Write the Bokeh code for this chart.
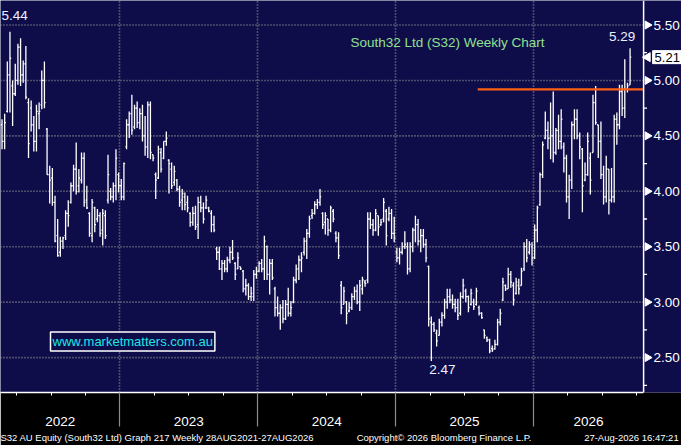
import numpy as np
from bokeh.plotting import figure
from bokeh.models import (FixedTicker, Label, Range1d, ColumnDataSource,
                          CustomJSTickFormatter, LinearAxis)
from bokeh.core.properties import value
from bokeh.embed import file_html
from bokeh.resources import INLINE

# ---------------- data (weekly OHLC) ----------------
year_names = ["2022", "2023", "2024", "2025", "2026"]

high_2022 = [4.65, 4.70, 5.17, 5.44, 5.00, 5.15, 5.33, 5.38, 5.18, 5.31, 4.84, 4.82, 4.68, 4.78, 4.80,
             5.09, 5.17, 4.57, 4.23, 4.21, 3.96, 3.75, 3.59, 3.59, 3.83, 3.92, 4.08, 4.24, 4.44, 4.20,
             4.35, 4.35, 4.05, 3.81, 3.93, 3.86, 3.84, 3.81, 3.84, 3.83, 4.33, 4.03, 4.08, 4.38, 4.17]
low_2022 = [4.38, 4.38, 4.71, 4.71, 4.59, 4.86, 4.96, 4.95, 4.98, 4.83, 4.30, 4.54, 4.36, 4.36, 4.56,
            4.74, 4.75, 4.15, 3.89, 3.87, 3.54, 3.41, 3.41, 3.48, 3.56, 3.68, 3.89, 4.00, 3.97, 3.99,
            4.07, 3.86, 3.84, 3.59, 3.54, 3.63, 3.72, 3.59, 3.51, 3.57, 3.89, 3.92, 3.90, 3.92, 3.99]
open_2022 = [4.60, 4.45, 4.72, 5.05, 4.95, 4.88, 5.00, 5.30, 5.05, 5.15, 4.80, 4.75, 4.60, 4.45, 4.70,
             4.78, 5.00, 4.56, 4.15, 4.12, 3.90, 3.60, 3.45, 3.55, 3.60, 3.80, 3.90, 4.05, 4.20, 4.05,
             4.10, 4.30, 3.92, 3.80, 3.60, 3.85, 3.75, 3.78, 3.65, 3.78, 3.92, 4.00, 3.95, 4.05, 4.15]
close_2022 = [4.45, 4.62, 5.05, 5.20, 4.88, 5.00, 5.30, 5.05, 5.15, 4.85, 4.43, 4.60, 4.45, 4.72, 4.72,
              5.00, 4.80, 4.15, 4.10, 3.90, 3.55, 3.42, 3.55, 3.58, 3.80, 3.78, 4.05, 4.20, 4.00, 4.12,
              4.30, 3.90, 3.85, 3.62, 3.90, 3.70, 3.78, 3.62, 3.80, 3.60, 4.15, 3.95, 4.05, 4.30, 4.05]

high_2023 = [4.11, 4.26, 4.65, 4.72, 4.87, 4.78, 4.81, 4.75, 4.78, 4.68, 4.81, 4.81, 4.33, 4.17, 4.41,
             4.39, 4.45, 4.54, 4.29, 4.26, 4.23, 4.11, 4.05, 4.02, 3.99, 3.96, 3.81, 3.86, 3.87, 3.95,
             3.96, 3.90, 3.96, 3.86, 3.83, 3.78, 3.50, 3.50, 3.38, 3.38, 3.41, 3.50, 3.56, 3.36, 3.45,
             3.32, 3.29, 3.21, 3.17, 3.14, 3.29, 3.32]
low_2023 = [3.92, 3.92, 4.38, 4.48, 4.51, 4.56, 4.57, 4.56, 4.45, 4.32, 4.30, 4.29, 4.27, 3.93, 4.11,
            4.17, 4.29, 4.41, 3.98, 4.02, 4.05, 4.00, 3.86, 3.83, 3.83, 3.81, 3.68, 3.69, 3.65, 3.57,
            3.81, 3.71, 3.84, 3.81, 3.63, 3.63, 3.38, 3.29, 3.20, 3.27, 3.27, 3.35, 3.38, 3.20, 3.30,
            3.29, 3.09, 3.06, 3.02, 3.01, 3.01, 3.21]
open_2023 = [4.05, 3.95, 4.40, 4.60, 4.70, 4.58, 4.75, 4.62, 4.70, 4.50, 4.40, 4.78, 4.33, 4.15, 4.12,
             4.35, 4.30, 4.45, 4.28, 4.20, 4.08, 4.10, 4.02, 3.92, 3.95, 3.90, 3.80, 3.72, 3.80, 3.70,
             3.90, 3.85, 3.85, 3.85, 3.80, 3.70, 3.48, 3.45, 3.30, 3.35, 3.30, 3.38, 3.45, 3.35, 3.30,
             3.32, 3.28, 3.12, 3.15, 3.05, 3.05, 3.25]
close_2023 = [3.95, 4.25, 4.60, 4.70, 4.55, 4.75, 4.62, 4.70, 4.50, 4.40, 4.78, 4.35, 4.30, 4.10, 4.38,
              4.20, 4.45, 4.48, 4.25, 4.05, 4.18, 4.02, 3.90, 3.98, 3.88, 3.85, 3.72, 3.80, 3.68, 3.90,
              3.85, 3.75, 3.92, 3.82, 3.70, 3.65, 3.45, 3.30, 3.35, 3.30, 3.38, 3.45, 3.40, 3.25, 3.40,
              3.30, 3.12, 3.15, 3.05, 3.08, 3.25, 3.28]

high_2024 = [3.37, 3.39, 3.60, 3.51, 3.39, 3.39, 3.14, 3.05, 2.98, 3.02, 3.02, 3.13, 3.01, 3.23, 3.34,
             3.42, 3.45, 3.58, 3.66, 3.78, 3.84, 3.91, 3.93, 4.02, 3.81, 3.81, 3.75, 3.87, 3.84, 3.64,
             3.63, 3.19, 3.14, 3.01, 3.00, 3.08, 3.14, 3.16, 3.20, 3.23, 3.20, 3.81, 3.81, 3.75, 3.84,
             3.78, 3.75, 3.94, 3.84, 3.86, 3.84, 3.77]
low_2024 = [3.27, 3.27, 3.20, 3.20, 3.07, 3.20, 2.87, 2.87, 2.75, 2.81, 2.84, 2.87, 2.87, 2.99, 3.17,
            3.20, 3.27, 3.42, 3.39, 3.58, 3.75, 3.79, 3.84, 3.87, 3.66, 3.61, 3.60, 3.63, 3.72, 3.54,
            3.39, 2.89, 2.98, 2.80, 2.91, 2.93, 3.02, 2.98, 2.92, 3.07, 3.14, 3.17, 3.66, 3.60, 3.64,
            3.60, 3.69, 3.72, 3.51, 3.73, 3.57, 3.54]
open_2024 = [3.28, 3.35, 3.30, 3.50, 3.25, 3.35, 3.12, 2.95, 2.90, 2.95, 2.85, 2.98, 2.90, 3.00, 3.20,
             3.30, 3.38, 3.45, 3.55, 3.62, 3.78, 3.80, 3.88, 3.90, 3.80, 3.72, 3.75, 3.65, 3.82, 3.62,
             3.58, 3.15, 2.98, 3.00, 2.92, 2.95, 3.05, 3.10, 3.00, 3.12, 3.18, 3.20, 3.75, 3.70, 3.65,
             3.78, 3.70, 3.75, 3.82, 3.75, 3.80, 3.62]
close_2024 = [3.35, 3.30, 3.55, 3.25, 3.35, 3.22, 2.95, 2.90, 2.95, 2.85, 2.98, 2.90, 2.95, 3.20, 3.30,
              3.38, 3.40, 3.55, 3.62, 3.75, 3.80, 3.88, 3.90, 3.95, 3.70, 3.78, 3.65, 3.85, 3.75, 3.58,
              3.42, 2.95, 3.10, 2.90, 2.95, 3.05, 3.10, 3.00, 3.15, 3.20, 3.17, 3.75, 3.70, 3.65, 3.80,
              3.68, 3.72, 3.90, 3.60, 3.80, 3.62, 3.58]

high_2025 = [3.49, 3.49, 3.54, 3.64, 3.54, 3.54, 3.67, 3.78, 3.75, 3.66, 3.66, 3.57, 3.33, 2.87, 2.82,
             2.75, 2.85, 2.91, 3.03, 3.12, 3.12, 3.07, 3.03, 3.03, 3.09, 3.21, 3.12, 3.06, 3.12, 3.03,
             3.13, 2.97, 2.91, 2.75, 2.69, 2.67, 2.61, 2.66, 2.85, 2.94, 3.22, 3.16, 3.31, 3.28, 3.18,
             3.22, 3.21, 3.31, 3.54, 3.57, 3.55, 3.54]
low_2025 = [3.36, 3.34, 3.43, 3.48, 3.25, 3.27, 3.45, 3.54, 3.51, 3.45, 3.49, 3.36, 2.78, 2.47, 2.73,
            2.60, 2.70, 2.78, 2.85, 2.94, 2.99, 2.94, 2.91, 2.84, 2.88, 3.03, 3.00, 2.91, 2.97, 2.93,
            2.97, 2.88, 2.85, 2.67, 2.64, 2.54, 2.55, 2.57, 2.61, 2.79, 3.01, 3.10, 3.12, 3.13, 2.97,
            3.07, 3.07, 3.15, 3.28, 3.36, 3.43, 3.33]
open_2025 = [3.45, 3.40, 3.45, 3.50, 3.50, 3.30, 3.50, 3.65, 3.70, 3.55, 3.60, 3.52, 3.32, 2.82, 2.80,
             2.72, 2.70, 2.82, 2.88, 3.00, 3.05, 3.02, 2.98, 2.95, 2.90, 3.05, 3.10, 3.05, 2.98, 3.00,
             2.98, 2.95, 2.90, 2.75, 2.68, 2.66, 2.58, 2.58, 2.62, 2.82, 3.02, 3.15, 3.12, 3.25, 3.15,
             3.08, 3.15, 3.15, 3.30, 3.50, 3.45, 3.50]
close_2025 = [3.40, 3.45, 3.50, 3.52, 3.30, 3.50, 3.65, 3.70, 3.55, 3.60, 3.52, 3.40, 2.85, 2.80, 2.75,
              2.65, 2.82, 2.88, 3.00, 3.05, 3.02, 2.98, 2.95, 2.88, 3.05, 3.15, 3.05, 2.95, 3.08, 2.96,
              3.10, 2.90, 2.86, 2.70, 2.66, 2.56, 2.57, 2.62, 2.82, 2.90, 3.18, 3.12, 3.25, 3.18, 3.02,
              3.18, 3.12, 3.28, 3.50, 3.40, 3.52, 3.40]

high_2026 = [3.70, 3.87, 4.17, 4.45, 4.72, 4.63, 4.80, 4.90, 4.57, 4.69, 4.74, 4.44, 4.33, 4.15, 4.63,
             4.74, 4.74, 4.53, 4.39, 4.26, 4.53, 4.35, 4.87, 4.95, 4.60, 4.63, 4.23, 4.32, 4.20, 4.21,
             4.69, 4.71, 4.96, 4.96, 5.19, 4.98, 5.29]
low_2026 = [3.39, 3.54, 3.87, 4.12, 4.47, 4.38, 4.29, 4.26, 4.33, 4.38, 4.38, 4.17, 3.90, 3.75, 4.02,
            4.47, 4.47, 4.29, 3.81, 4.09, 4.14, 3.97, 4.35, 4.60, 4.30, 4.11, 3.88, 3.90, 3.79, 3.90,
            3.90, 4.42, 4.56, 4.68, 4.66, 4.89, 4.96]
open_2026 = [3.40, 3.65, 3.88, 4.15, 4.48, 4.55, 4.48, 4.50, 4.35, 4.55, 4.45, 4.40, 4.30, 3.95, 4.10,
             4.60, 4.65, 4.50, 4.38, 4.10, 4.15, 4.30, 4.35, 4.80, 4.60, 4.45, 4.15, 3.95, 4.20, 3.92,
             3.95, 4.65, 4.60, 4.90, 4.75, 4.92, 4.96]
close_2026 = [3.65, 3.85, 4.15, 4.42, 4.55, 4.48, 4.50, 4.35, 4.55, 4.45, 4.65, 4.30, 3.95, 4.10, 4.60,
              4.65, 4.50, 4.40, 4.05, 4.15, 4.45, 4.10, 4.80, 4.62, 4.45, 4.15, 3.95, 4.20, 3.92, 3.95,
              4.65, 4.60, 4.90, 4.75, 4.92, 4.95, 5.21]

price_ticks = [2.50, 3.00, 3.50, 4.00, 4.50, 5.00, 5.50]
price_minor_ticks = [2.25, 2.75, 3.25, 3.75, 4.25, 4.75, 5.25]
resistance_level = 4.92
resistance_start_week = 179.5

title_text = "South32 Ltd (S32) Weekly Chart"
website_text = "www.marketmatters.com.au"
footer_texts = ["S32 AU Equity (South32 Ltd) Graph 217 Weekly 28AUG2021-27AUG2026",
                "Copyright\u00a9 2026 Bloomberg Finance L.P.",
                "27-Aug-2026 16:47:21"]

# ---------------- assemble ----------------
highs = high_2022 + high_2023 + high_2024 + high_2025 + high_2026
lows = low_2022 + low_2023 + low_2024 + low_2025 + low_2026
opens = open_2022 + open_2023 + open_2024 + open_2025 + open_2026
closes = close_2022 + close_2023 + close_2024 + close_2025 + close_2026
weeks = np.arange(len(highs))

counts = [len(high_2022), len(high_2023), len(high_2024), len(high_2025), len(high_2026)]
boundaries = [float(v) for v in np.cumsum(counts)[:-1] - 0.5]   # first week of 2023..2026
quarter_ticks = sorted([b + 13 * k for b in boundaries for k in (-3, -2, -1, 1, 2, 3)
                        if k < 0 or b == boundaries[-1]])

NAVY = "#0f0c4a"
X0 = -0.57         # left edge of the frame (week units)
AXIS_X = 242.1     # where the price axis sits
X_END = 256.4      # right edge of the picture
Y0, Y1 = 2.185, 5.721
FOOTER_POS = [57.4, 166.8, 237.5]   # centres of the three footer texts (week units)
SANS = "Liberation Sans"

p = figure(width=681, height=445, x_range=Range1d(X0, X_END), y_range=Range1d(Y0, Y1),
           output_backend="svg", toolbar_location=None, y_axis_location=None,
           background_fill_color=NAVY, border_fill_color="black",
           min_border_left=0, min_border_top=0, min_border_right=0, min_border_bottom=50)
p.outline_line_color = None

# vertical grid (year boundaries)
p.xgrid.ticker = FixedTicker(ticks=boundaries)
p.xgrid.grid_line_color = "#8c8c8c"
p.xgrid.grid_line_dash = "1 2"
p.xgrid.grid_line_width = 1.6
p.ygrid.visible = False

# horizontal grid up to the price axis
p.segment(x0=X0, y0=price_ticks, x1=AXIS_X, y1=price_ticks,
          line_color="#8c8c8c", line_dash="1 2", line_width=1.6)

# bars
src = ColumnDataSource(dict(x=weeks, xl=weeks - 0.45, xr=weeks + 0.45,
                            high=highs, low=lows, open=opens, close=closes))
p.segment(x0="x", y0="low", x1="x", y1="high", source=src, line_color="white", line_width=1.3)
p.segment(x0="xl", y0="open", x1="x", y1="open", source=src, line_color="white", line_width=1.3)
p.segment(x0="x", y0="close", x1="xr", y1="close", source=src, line_color="white", line_width=1.3)

# resistance line
p.segment(x0=[resistance_start_week], y0=[resistance_level], x1=[AXIS_X], y1=[resistance_level],
          line_color="#ff5f12", line_width=2.2)

# ---- price axis on the right (Bloomberg style) ----
p.segment(x0=[AXIS_X], y0=[Y0], x1=[AXIS_X], y1=[Y1], line_color="white", line_width=1.5)
p.scatter(x=[AXIS_X + 1.45] * len(price_ticks), y=price_ticks, marker="triangle",
          angle=-np.pi / 2, size=8, fill_color="white", line_color="white")
p.segment(x0=AXIS_X, y0=price_minor_ticks, x1=AXIS_X + 1.3, y1=price_minor_ticks,
          line_color="white", line_width=1.3)
p.text(x=[AXIS_X] * len(price_ticks), y=price_ticks, text=[f"{v:.2f}" for v in price_ticks],
       x_offset=10, text_align="left", text_baseline="middle", text_color="white",
       text_font=value(SANS), text_font_size="13.5px")
# last price tag
p.scatter(x=[AXIS_X + 1.5], y=[closes[-1]], marker="triangle", angle=np.pi / 2, size=9,
          fill_color="white", line_color="white")
p.add_layout(Label(x=AXIS_X, y=closes[-1], x_offset=9, text=f"{closes[-1]:.2f}",
                   text_align="left", text_baseline="middle", text_color="black",
                   text_font=SANS, text_font_size="13px",
                   background_fill_color="white", border_line_color="white", padding=2))

# ---- x axis: boundary ticks + quarter ticks ----
xa = p.xaxis[0]
xa.bounds = (X0, AXIS_X)
xa.ticker = FixedTicker(ticks=boundaries, minor_ticks=quarter_ticks)
xa.formatter = CustomJSTickFormatter(code="return ''")
xa.major_label_text_font_size = "0px"
xa.major_label_standoff = 0
xa.axis_line_color = "white"
xa.axis_line_width = 1.5
xa.major_tick_in = 0
xa.major_tick_out = 34
xa.major_tick_line_color = "#8c8c8c"
xa.major_tick_line_width = 1.2
xa.minor_tick_in = 0
xa.minor_tick_out = 3
xa.minor_tick_line_color = "white"

# year labels, centred between boundaries
centers = [(X0 + boundaries[0]) / 2] + \
          [(boundaries[i] + boundaries[i + 1]) / 2 for i in range(len(boundaries) - 1)] + \
          [(boundaries[-1] + AXIS_X) / 2]
centers = [round(c, 2) for c in centers]
year_axis = LinearAxis(ticker=FixedTicker(ticks=centers, minor_ticks=[]),
                       major_label_overrides={c: n for c, n in zip(centers, year_names)},
                       axis_line_color=None, major_tick_line_color=None, minor_tick_line_color=None,
                       major_tick_in=0, major_tick_out=0, minor_tick_in=0, minor_tick_out=0,
                       major_label_standoff=-10, major_label_text_color="white",
                       major_label_text_font=SANS, major_label_text_font_size="13.5px")
p.add_layout(year_axis, "below")

# footer line
foot = LinearAxis(ticker=FixedTicker(ticks=FOOTER_POS, minor_ticks=[]),
                  major_label_overrides={c: t for c, t in zip(FOOTER_POS, footer_texts)},
                  axis_line_color=None, major_tick_line_color=None, minor_tick_line_color=None,
                  major_tick_in=0, major_tick_out=0, minor_tick_in=0, minor_tick_out=0,
                  major_label_standoff=3, major_label_text_color="white",
                  major_label_text_font=SANS, major_label_text_font_size="9.5px")
p.add_layout(foot, "below")

# title
p.add_layout(Label(x=447, y=350, x_units="screen", y_units="screen", text=title_text,
                   text_align="center", text_baseline="middle", text_color="#8fe08f",
                   text_font=SANS, text_font_size="13.5px"))

# website box
p.add_layout(Label(x=50, y=51, x_units="screen", y_units="screen", text=website_text,
                   text_align="left", text_baseline="middle", text_color="#1ee6e6",
                   text_font=SANS, text_font_size="13px",
                   background_fill_color=NAVY, border_line_color="white", border_line_width=1.5,
                   padding=2))

# extreme value labels
i_max = int(np.argmax(highs))
i_min = int(np.argmin(lows))
p.add_layout(Label(x=X0, y=highs[i_max], x_offset=1, y_offset=16, text=f"{highs[i_max]:.2f}",
                   text_align="left", text_baseline="middle", text_color="#eef2ff",
                   text_font=SANS, text_font_size="13.5px"))
p.add_layout(Label(x=weeks[-1], y=highs[-1], x_offset=-8, y_offset=7, text=f"{highs[-1]:.2f}",
                   text_align="center", text_baseline="bottom", text_color="#eef2ff",
                   text_font=SANS, text_font_size="13.5px"))
p.add_layout(Label(x=i_min, y=lows[i_min], x_offset=11, y_offset=-4, text=f"{lows[i_min]:.2f}",
                   text_align="center", text_baseline="top", text_color="#eef2ff",
                   text_font=SANS, text_font_size="13.5px"))

open("out.html", "w").write(file_html(p, INLINE))
